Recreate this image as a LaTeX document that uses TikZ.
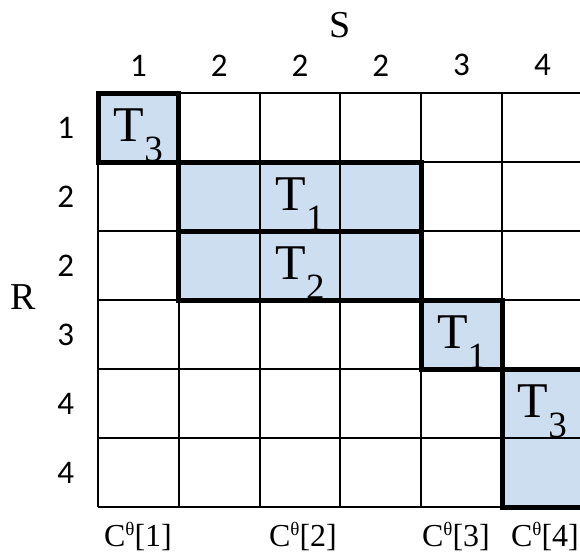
\documentclass[tikz,border=0pt]{standalone}
\usepackage{fontspec}
\setmainfont{Liberation Serif}
\newfontfamily\digitfont{Carlito}
\usetikzlibrary{positioning}
\definecolor{blockblue}{RGB}{206,222,241}
\tikzset{
  thinline/.style={line width=2pt,black},
  thickline/.style={line width=5pt,black},
  idxlabel/.style={font=\digitfont\fontsize{33}{33}\selectfont,inner sep=0pt},
  axlabel/.style={font=\fontsize{38}{38}\selectfont,inner sep=0pt},
  tlabel/.style={font=\fontsize{50}{50}\selectfont,inner sep=0pt,anchor=base},
  clabel/.style={font=\fontsize{32}{32}\selectfont,inner sep=0pt,anchor=base},
}
\newcommand{\Tsub}[1]{T\raisebox{-20pt}{\fontsize{37}{37}\selectfont #1}}
\newcommand{\Cth}[1]{C\raisebox{11pt}{\fontsize{19}{19}\selectfont θ}[#1]}

\begin{document}
\begin{tikzpicture}[x=1pt,y=-1pt]
\useasboundingbox (0,0) rectangle (580,552);
\clip (0,0) rectangle (580,552);
% grid of cells
\begin{scope}[shift={(98pt,-93pt)},x=80.8pt,y=-69pt]
\fill[blockblue] (0,0) rectangle (1,1);
\fill[blockblue] (1,1) rectangle (4,3);
\fill[blockblue] (4,3) rectangle (5,4);
\fill[blockblue] (5,4) rectangle (6.2,6);
\foreach \k in {0,...,6} {\draw[thinline] (\k,0) -- (\k,6);}
\foreach \k in {0,...,6} {\draw[thinline] (0,\k) -- (6.2,\k);}
\draw[thickline] (0,0) rectangle (1,1);
\draw[thickline] (1,1) rectangle (4,2);
\draw[thickline] (1,2) rectangle (4,3);
\draw[thickline] (4,3) rectangle (5,4);
\draw[thickline] (5,4) rectangle (6.2,6);
\node[tlabel] (ta) at (0.5,0.7) {\Tsub{3}};
\node[tlabel] (tb) at (2.5,1.7) {\Tsub{1}};
\node[tlabel] (tc) at (2.5,2.7) {\Tsub{2}};
\node[tlabel] (td) at (4.5,3.7) {\Tsub{1}};
\node[tlabel] (te) at (5.5,4.7) {\Tsub{3}};
% column and row indices
\foreach \v [count=\i from 0] in {1,2,2,2,3,4} {\node[idxlabel] (col\i) at (\i+0.5,-0.4) {\v};}
\foreach \v [count=\i from 0] in {1,2,2,3,4,4} {\node[idxlabel] (row\i) at (-0.4,\i+0.5) {\v};}
\end{scope}
% axis names and bottom labels
\node[axlabel] (slabel) at (340,25) {S};
\node[axlabel] (rlabel) at (23,297) {R};
\node[clabel] (ca) at (138,546) {\Cth{1}};
\node[clabel] (cb) at (303,546) {\Cth{2}};
\node[clabel] (cc) at (456,546) {\Cth{3}};
\node[clabel] (cd) at (545,546) {\Cth{4}};
\end{tikzpicture}
\end{document}
